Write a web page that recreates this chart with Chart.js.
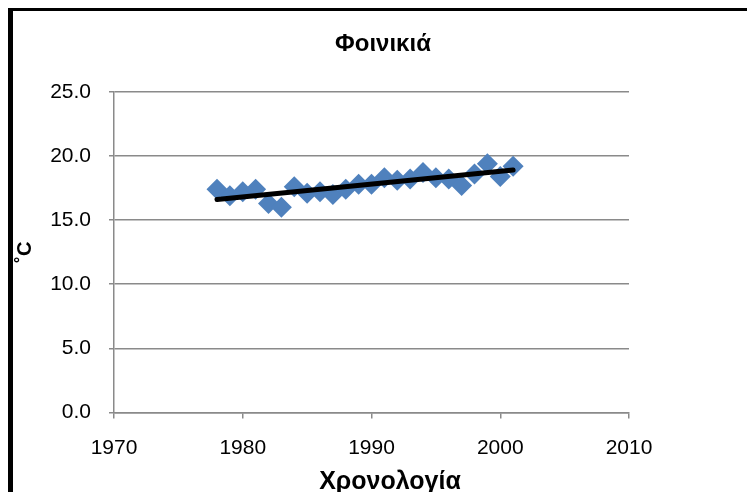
<!DOCTYPE html>
<html>
<head>
<meta charset="utf-8">
<script src="https://cdn.jsdelivr.net/npm/chart.js@4/dist/chart.umd.min.js"></script>
<style>
  html, body { margin: 0; padding: 0; background: #fff; overflow: hidden; }
  #wrap { position: relative; width: 747px; height: 492px; }
  #frame {
    position: absolute; left: 8px; top: 8px; width: 800px; height: 600px;
    border-top: 3px solid #000; border-left: 5px solid #000;
    box-sizing: border-box; pointer-events: none;
  }
  canvas { position: absolute; left: 0; top: 0; }
</style>
</head>
<body>
<div id="wrap">
  <canvas id="chart" width="747" height="492"></canvas>
  <div id="frame"></div>
</div>
<script>
// Annual mean temperature, Φοινικιά
const years = [1978, 1979, 1980, 1981, 1982, 1983, 1984, 1985, 1986, 1987, 1988, 1989,
               1990, 1991, 1992, 1993, 1994, 1995, 1996, 1997, 1998, 1999, 2000, 2001];
const temps = [17.4, 16.9, 17.2, 17.4, 16.3, 16.0, 17.6, 17.1, 17.2, 17.0, 17.4, 17.8,
               17.8, 18.3, 18.1, 18.2, 18.7, 18.3, 18.2, 17.7, 18.6, 19.4, 18.4, 19.2];

// Linear trend line end points
const trendYears = [1978, 2001];
const trendTemps = [16.6, 18.9];

const xTicks = [1970, 1980, 1990, 2000, 2010];
const yTicks = [0, 5, 10, 15, 20, 25];

const xTitle = 'Χρονολογία';

const gridGray = '#8a8a8a';
const family = '"Liberation Sans", Arial, sans-serif';
const labelFont = { family, size: 21 };

// Centre the chart title over the plot region and draw the x axis title
const titleShift = {
  id: 'titleShift',
  afterLayout(chart) {
    const t = chart.titleBlock;
    if (t) { t.left = 137; t.right = chart.chartArea.right; }
  },
  afterDraw(chart) {
    const ctx = chart.ctx;
    ctx.save();
    ctx.font = 'bold 25px ' + family;
    ctx.fillStyle = '#000';
    ctx.textAlign = 'center';
    ctx.textBaseline = 'middle';
    ctx.fillText(xTitle, 390, 482);
    ctx.restore();
  }
};

new Chart(document.getElementById('chart'), {
  type: 'scatter',
  data: {
    datasets: [
      {
        label: 'temps',
        data: years.map((y, i) => ({ x: y, y: temps[i] })),
        pointStyle: 'rectRot',
        pointRadius: 10.5,
        backgroundColor: '#4F81BD',
        borderColor: '#4F81BD',
        borderWidth: 0,
        order: 2
      },
      {
        label: 'trend',
        type: 'line',
        data: trendYears.map((y, i) => ({ x: y, y: trendTemps[i] })),
        borderColor: '#000',
        borderWidth: 5,
        pointRadius: 0,
        borderCapStyle: 'round',
        fill: false,
        order: 1
      }
    ]
  },
  plugins: [titleShift],
  options: {
    responsive: false,
    animation: false,
    devicePixelRatio: 1,
    layout: { padding: { left: 14, top: 0, right: 118, bottom: 0 } },
    plugins: {
      legend: { display: false },
      tooltip: { enabled: false },
      title: {
        display: true,
        text: 'Φοινικιά',
        color: '#000',
        font: { family, size: 24, weight: 'bold', lineHeight: 1.2 },
        padding: { top: 29.6, bottom: 33.4 }
      }
    },
    scales: {
      x: {
        type: 'linear',
        min: xTicks[0],
        max: xTicks[xTicks.length - 1],
        afterBuildTicks: (s) => { s.ticks = xTicks.map(v => ({ value: v })); },
        afterFit: (s) => { s.height = 79.5; },
        ticks: { color: '#000', font: labelFont, padding: 17, maxRotation: 0, callback: (v) => String(v) },
        grid: { drawOnChartArea: false, drawTicks: true, tickLength: 6, color: gridGray, lineWidth: 1.5 },
        border: { color: gridGray, width: 1.5 },
        title: { display: false }
      },
      y: {
        min: yTicks[0],
        max: yTicks[yTicks.length - 1],
        afterBuildTicks: (s) => { s.ticks = yTicks.map(v => ({ value: v })); },
        afterFit: (s) => { s.width = 100; },
        ticks: { color: '#000', font: labelFont, padding: 18, callback: (v) => Number(v).toFixed(1) },
        grid: { drawOnChartArea: true, drawTicks: true, tickLength: 5, color: gridGray, lineWidth: 1.5 },
        border: { color: gridGray, width: 1.5 },
        title: {
          display: true,
          text: '˚C',
          color: '#000',
          font: { family, size: 20, weight: 'bold', lineHeight: 1 },
          padding: { top: 1, bottom: 0 }
        }
      }
    }
  }
});
</script>
</body>
</html>
